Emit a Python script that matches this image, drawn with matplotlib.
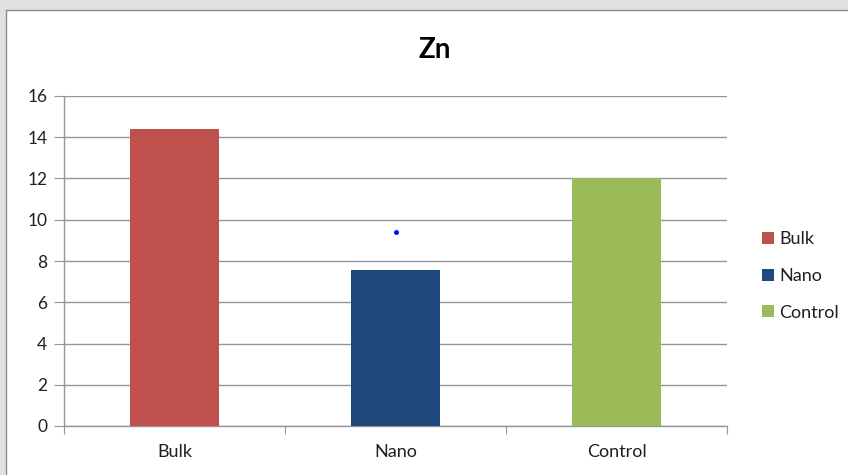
import matplotlib
matplotlib.use("Agg")
import matplotlib.pyplot as plt
from matplotlib.patches import Rectangle

categories = ["Bulk", "Nano", "Control"]
values = [14.4, 7.55, 12.0]
colors = ["#c0504d", "#1f497d", "#9bbb59"]
nano_marker_value = 9.4
y_ticks = [0, 2, 4, 6, 8, 10, 12, 14, 16]

plt.rcParams["font.family"] = ["Lato", "DejaVu Sans"]

W, H = 848, 475
fig = plt.figure(figsize=(W / 100, H / 100), dpi=100)
fig.patch.set_facecolor("#e1e1e1")

# white chart area with thin grey frame, kept behind the axes
fig.patches.append(Rectangle((6 / W, -0.1), 1.0, 1.1 - 10 / H, transform=fig.transFigure,
                             facecolor="white", edgecolor="#8c8c8c", linewidth=1.0, zorder=-5))

ax = fig.add_axes([64 / W, 1 - 426 / H, (727 - 64) / W, (426 - 96) / H])
ax.set_facecolor("white")
x = list(range(len(categories)))
ax.bar(x, values, width=0.4, color=colors, zorder=3)
ax.plot([1], [nano_marker_value], marker="o", markersize=2.5, color="#0000ff",
        linestyle="none", zorder=4)

ax.set_xlim(-0.5, 2.5)
ax.set_ylim(0, 16)
ax.set_yticks(y_ticks)
ax.set_yticklabels([str(t) for t in y_ticks], fontsize=12.5, color="#202020")
ax.yaxis.grid(True, color="#969696", linewidth=1.0, zorder=0)
ax.set_axisbelow(True)

ax.set_xticks([-0.5, 0.5, 1.5, 2.5])
ax.set_xticklabels([])
ax.set_xticks(x, minor=True)
ax.set_xticklabels(categories, minor=True, fontsize=13, color="#202020")
ax.tick_params(axis="x", which="minor", length=0, pad=13)
ax.tick_params(axis="x", which="major", length=6, color="#969696", direction="out")
ax.tick_params(axis="y", length=7, color="#969696", direction="out", pad=5)

for s in ["top", "right"]:
    ax.spines[s].set_visible(False)
for s in ["left", "bottom"]:
    ax.spines[s].set_color("#969696")
    ax.spines[s].set_linewidth(1.0)

fig.text(435 / W, 1 - 50 / H, "Zn", ha="center", va="center", fontsize=20,
         fontweight="bold", color="#000000")

handles = [Rectangle((0, 0), 1, 1, facecolor=c) for c in colors]
leg = fig.legend(handles, categories, loc="center left", bbox_to_anchor=(746 / W, 1 - 276 / H),
                 frameon=False, fontsize=13, handlelength=0.65, handleheight=0.65,
                 labelspacing=1.15, handletextpad=0.3)
for t in leg.get_texts():
    t.set_color("#202020")

fig.savefig("out.png", dpi=100, facecolor=fig.get_facecolor())
